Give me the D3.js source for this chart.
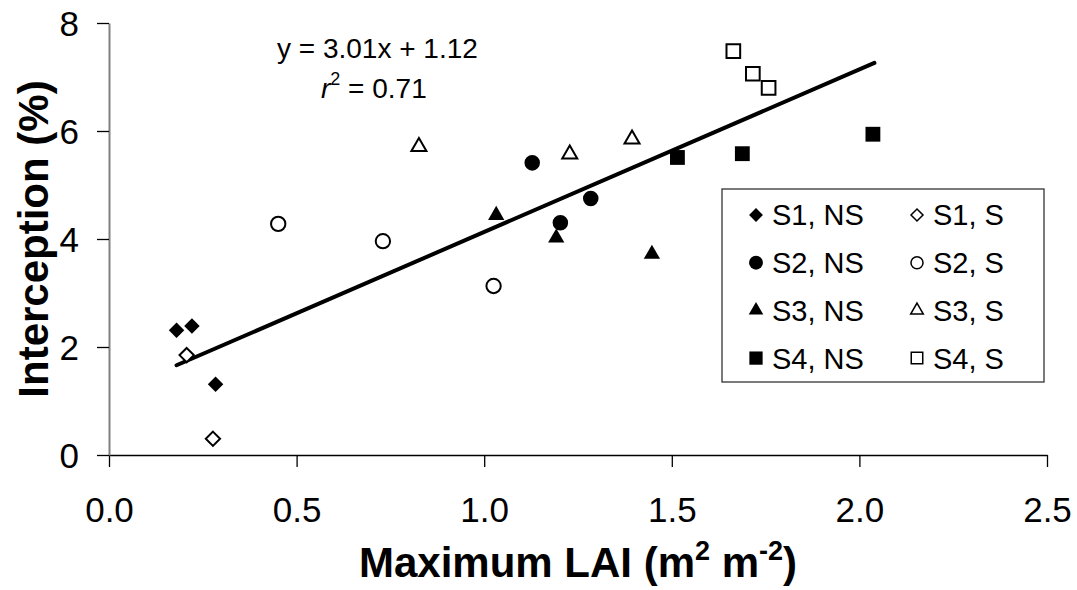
<!DOCTYPE html>
<html>
<head>
<meta charset="utf-8">
<script src="https://cdn.jsdelivr.net/npm/d3@7"></script>
<style>
  body { margin: 0; background: #fff; }
  svg { font-family: "Liberation Sans", Arial, sans-serif; }
</style>
</head>
<body>
<div id="chart"></div>
<script>
// data
const s1NS = [[0.180, 2.31], [0.221, 2.39], [0.284, 1.31]];
const s1S  = [[0.207, 1.85], [0.277, 0.30]];
const s2NS = [[1.128, 5.41], [1.203, 4.30], [1.284, 4.75]];
const s2S  = [[0.451, 4.28], [0.730, 3.96], [1.025, 3.13]];
const s3NS = [[1.032, 4.44], [1.192, 4.02], [1.447, 3.72]];
const s3S  = [[0.826, 5.71], [1.228, 5.57], [1.394, 5.85]];
const s4NS = [[1.515, 5.51], [1.688, 5.58], [2.036, 5.94]];
const s4S  = [[1.664, 7.48], [1.716, 7.06], [1.758, 6.80]];

const xTicks = [0, 0.5, 1.0, 1.5, 2.0, 2.5];
const yTicks = [0, 2, 4, 6, 8];
const slope = 3.01, intercept = 1.12;
const fitRange = [0.18, 2.04];

// diamond = square turned 45 degrees
const diamond = {
  draw(ctx, size) {
    const r = Math.sqrt(size / 2);
    ctx.moveTo(0, -r); ctx.lineTo(r, 0); ctx.lineTo(0, r); ctx.lineTo(-r, 0); ctx.closePath();
  }
};

const series = [
  { name: "S1, NS", shape: diamond, filled: true, pts: s1NS },
  { name: "S1, S",  shape: diamond, filled: false, pts: s1S },
  { name: "S2, NS", shape: d3.symbolCircle, filled: true, pts: s2NS },
  { name: "S2, S",  shape: d3.symbolCircle, filled: false, pts: s2S },
  { name: "S3, NS", shape: d3.symbolTriangle, filled: true, pts: s3NS },
  { name: "S3, S",  shape: d3.symbolTriangle, filled: false, pts: s3S },
  { name: "S4, NS", shape: d3.symbolSquare, filled: true, pts: s4NS },
  { name: "S4, S",  shape: d3.symbolSquare, filled: false, pts: s4S }
];

const W = 1077, H = 590;
const margin = { top: 23, right: 30, bottom: 135, left: 109 };
const width = W - margin.left - margin.right;
const height = H - margin.top - margin.bottom;

const svg = d3.select("#chart").append("svg")
  .attr("width", W)
  .attr("height", H);

const g = svg.append("g")
  .attr("transform", `translate(${margin.left},${margin.top})`);

const x = d3.scaleLinear().domain([0, 2.5]).range([0, width]);
const y = d3.scaleLinear().domain([0, 8]).range([height, 0]);

// Axes
const xAxis = g.append("g")
  .attr("transform", `translate(0,${height})`)
  .call(d3.axisBottom(x).tickValues(xTicks).tickFormat(d3.format(".1f")).tickSizeInner(12).tickSizeOuter(0).tickPadding(30));
xAxis.select(".domain").attr("stroke", "#000").attr("stroke-width", 1.5);

const yAxis = g.append("g")
  .call(d3.axisLeft(y).tickValues(yTicks).tickSizeInner(12).tickSizeOuter(0).tickPadding(18));
yAxis.select(".domain").attr("stroke", "#808080").attr("stroke-width", 2);

g.selectAll(".tick line").attr("stroke", "#000").attr("stroke-width", 1.3);
g.selectAll(".tick text").attr("font-size", 35).attr("fill", "#000")
  .attr("font-family", "Liberation Sans, Arial, sans-serif");
xAxis.selectAll(".tick text").attr("dy", "0.71em");
yAxis.selectAll(".tick text").attr("dy", "0.36em");

// Axis titles
const xTitle = svg.append("text")
  .attr("text-anchor", "middle")
  .attr("x", margin.left + width / 2)
  .attr("y", 577)
  .attr("font-size", 42)
  .attr("font-weight", "bold");
xTitle.append("tspan").text("Maximum LAI (m");
xTitle.append("tspan").attr("font-size", 27).attr("dy", -17).text("2");
xTitle.append("tspan").attr("dy", 17).text(" m");
xTitle.append("tspan").attr("font-size", 27).attr("dy", -17).text("-2");
xTitle.append("tspan").attr("dy", 17).text(")");

svg.append("text")
  .attr("text-anchor", "middle")
  .attr("transform", `translate(48,${margin.top + height / 2}) rotate(-90)`)
  .attr("font-size", 42)
  .attr("font-weight", "bold")
  .text("Interception (%)");

// Regression line
g.append("line")
  .attr("x1", x(fitRange[0]))
  .attr("y1", y(slope * fitRange[0] + intercept))
  .attr("x2", x(fitRange[1]))
  .attr("y2", y(slope * fitRange[1] + intercept))
  .attr("stroke", "#000")
  .attr("stroke-width", 4)
  .attr("stroke-linecap", "round");

// Equation
svg.append("text")
  .attr("x", 277)
  .attr("y", 58)
  .attr("font-size", 28)
  .text("y = 3.01x + 1.12");
const r2 = svg.append("text")
  .attr("x", 321)
  .attr("y", 98)
  .attr("font-size", 28);
r2.append("tspan").attr("font-style", "italic").text("r");
r2.append("tspan").attr("font-size", 18).attr("dy", -13).text("2");
r2.append("tspan").attr("dy", 13).text(" = 0.71");

// Marker sizes (area) per shape
function markerSize(shape, legend) {
  const k = legend ? 0.8 : 1;
  if (shape === diamond) return 120 * k;
  if (shape === d3.symbolCircle) return 190 * k;
  if (shape === d3.symbolTriangle) return 115 * k;
  return 220 * k;
}

series.forEach(s => {
  g.selectAll(null)
    .data(s.pts)
    .enter()
    .append("path")
    .attr("transform", d => `translate(${x(d[0])},${y(d[1])})`)
    .attr("d", d3.symbol().type(s.shape).size(markerSize(s.shape, false) * (s.filled ? 1 : 0.85)))
    .attr("fill", s.filled ? "#000" : "#fff")
    .attr("stroke", "#000")
    .attr("stroke-width", s.filled ? 0 : 2);
});

// Legend
const legend = svg.append("g").attr("transform", "translate(722,189)");
legend.append("rect")
  .attr("width", 322)
  .attr("height", 193)
  .attr("fill", "#fff")
  .attr("stroke", "#333")
  .attr("stroke-width", 1.3);

series.forEach((s, i) => {
  const col = i % 2, row = Math.floor(i / 2);
  const item = legend.append("g")
    .attr("transform", `translate(${34 + col * 161},${26 + row * 47.7})`);
  item.append("path")
    .attr("d", d3.symbol().type(s.shape).size(markerSize(s.shape, true) * (s.filled ? 1 : 0.75)))
    .attr("fill", s.filled ? "#000" : "#fff")
    .attr("stroke", "#000")
    .attr("stroke-width", s.filled ? 0 : 1.5);
  item.append("text")
    .attr("x", 16)
    .attr("dy", "0.36em")
    .attr("font-size", 29)
    .text(s.name);
});
</script>
</body>
</html>
